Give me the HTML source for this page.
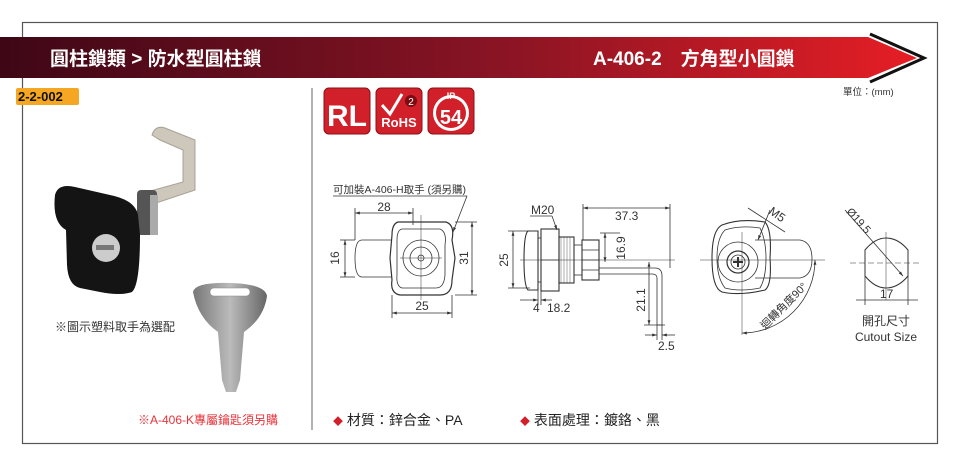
<!DOCTYPE html>
<html><head><meta charset="utf-8"><style>
body{margin:0;width:960px;height:471px;background:#fff;overflow:hidden;font-family:"Liberation Sans","Noto Sans CJK TC",sans-serif;}
svg{position:absolute;left:0;top:0}
text{font-family:"Liberation Sans","Noto Sans CJK TC",sans-serif}
</style></head><body>
<svg width="960" height="471" viewBox="0 0 960 471">
<defs>
<linearGradient id="bn" x1="0" x2="1"><stop offset="0" stop-color="#3e0716"/><stop offset="0.55" stop-color="#8a1424"/><stop offset="1" stop-color="#e61e25"/></linearGradient>
<marker id="a" viewBox="0 0 10 10" refX="10" refY="5" markerWidth="6" markerHeight="6" orient="auto-start-reverse"><path d="M0,2L10,5L0,8z" fill="#333"/></marker>
<linearGradient id="mt" x1="0" x2="1"><stop offset="0" stop-color="#777"/><stop offset=".5" stop-color="#bbb"/><stop offset="1" stop-color="#666"/></linearGradient>
</defs>
<rect x="22.5" y="22.5" width="915" height="421" fill="none" stroke="#555" stroke-width="1.2"/>
<!-- banner -->
<polyline points="870,34 924,58 870,82" fill="none" stroke="#111" stroke-width="3"/>
<path d="M0,37 L868,37 L917,58 L868,78 L0,78Z" fill="url(#bn)"/>
<text x="50" y="65" fill="#fff" font-size="19" font-weight="bold">圓柱鎖類 &gt; 防水型圓柱鎖</text>
<text x="593" y="65" fill="#fff" font-size="19" font-weight="bold">A-406-2　方角型小圓鎖</text>
<text x="843" y="95" fill="#333" font-size="9.5">單位：(mm)</text>
<rect x="16" y="88" width="63" height="17" fill="#f5a623" rx="2"/>
<text x="18" y="101" font-size="13" font-weight="bold" fill="#111">2-2-002</text>
<line x1="312" y1="88" x2="312" y2="430" stroke="#999" stroke-width="1.5"/>
<!-- badges -->
<rect x="324" y="88" width="46" height="46" rx="5" fill="#d2202a" stroke="#8a1015"/>
<text x="347" y="126" text-anchor="middle" fill="#fff" font-size="30" font-weight="bold" font-family="Liberation Sans Narrow">RL</text>
<rect x="376" y="88" width="46" height="46" rx="5" fill="#d2202a" stroke="#8a1015"/>
<path d="M382,105 L390,114 L402,94" stroke="#fff" stroke-width="3" fill="none"/>
<circle cx="411" cy="101" r="6" fill="#7a0c12"/><text x="411" y="105" text-anchor="middle" fill="#fff" font-size="10">2</text>
<text x="399" y="127" text-anchor="middle" fill="#fff" font-size="13" font-weight="bold">RoHS</text>
<rect x="428" y="88" width="46" height="46" rx="5" fill="#d2202a" stroke="#8a1015"/>
<circle cx="451" cy="113" r="18" fill="#fff"/><circle cx="451" cy="113" r="15" fill="#d2202a"/>
<text x="451" y="99" text-anchor="middle" fill="#fff" font-size="9" font-weight="bold">IP</text>
<text x="451" y="124" text-anchor="middle" fill="#fff" font-size="20" font-weight="bold">54</text>
<!-- lock photo -->
<path d="M152,135 Q155,125 165,128 L195,140 L195,190 L150,205 L143,193 L183,182 L183,150 L160,140Z" fill="#cdc7bc" stroke="#a9a296"/>
<rect x="137" y="190" width="20" height="45" rx="4" fill="#555"/>
<rect x="150" y="195" width="8" height="40" fill="#aaa"/>
<path d="M55,195 Q58,183 75,187 L110,195 Q135,200 138,215 L140,235 Q140,285 132,292 Q120,296 100,292 L80,288 Q68,285 67,265 L66,230 Q52,222 55,195Z" fill="#141414"/>
<circle cx="106" cy="248" r="14" fill="#ccc"/><rect x="96" y="245" width="18" height="5" fill="#777"/>
<!-- key -->
<path d="M193,292 Q195,282 230,283 Q265,284 267,296 Q264,318 244,332 L240,380 L236,392 L226,392 L222,380 L218,332 Q198,318 193,292Z" fill="url(#mt)"/>
<rect x="210" y="288" width="40" height="8" rx="4" fill="#fff" stroke="#888" stroke-width="0.5"/>
<text x="55" y="331" font-size="12" fill="#333">※圖示塑料取手為選配</text>
<text x="138" y="424" font-size="12" fill="#e8333a">※A-406-K專屬鑰匙須另購</text>
<text x="333" y="425" font-size="14" fill="#222"><tspan fill="#d2202a" font-size="10">◆</tspan> 材質：鋅合金、PA</text>
<text x="520" y="425" font-size="14" fill="#222"><tspan fill="#d2202a" font-size="10">◆</tspan> 表面處理：鍍鉻、黑</text>
<g stroke="#333" stroke-width="0.8" fill="none">
<line x1="333" y1="196" x2="467" y2="196"/><line x1="467" y1="196" x2="453" y2="232" marker-end="url(#a)"/>
<line x1="355" y1="213" x2="413" y2="213" marker-start="url(#a)" marker-end="url(#a)"/>
<line x1="355" y1="208" x2="355" y2="240"/><line x1="413" y1="208" x2="413" y2="225"/>
<path d="M392,240 L362,240 Q355,240 355,258 Q355,277 362,277 L392,277"/>
<path d="M398,222 L446,222 Q455,225 452,240 L455,258 L452,280 Q452,295 440,295 L400,295 Q390,293 392,280 L390,258 L392,235 Q392,224 398,222Z" stroke-width="1.2"/>
<path d="M402,229 L440,229 Q447,232 445,245 L445,275 Q444,288 436,288 L402,288 Q396,286 397,275 L397,240 Q397,230 402,229Z"/>
<circle cx="421" cy="258" r="18"/><circle cx="421" cy="258" r="11"/><circle cx="421" cy="258" r="3"/>
<line x1="400" y1="258" x2="442" y2="258" stroke-width="0.5"/><line x1="421" y1="215" x2="421" y2="300" stroke-width="0.5"/>
<line x1="345" y1="240" x2="345" y2="277" marker-start="url(#a)" marker-end="url(#a)"/>
<line x1="340" y1="240" x2="355" y2="240"/><line x1="340" y1="277" x2="355" y2="277"/>
<line x1="472" y1="222" x2="472" y2="295" marker-start="url(#a)" marker-end="url(#a)"/>
<line x1="455" y1="222" x2="477" y2="222"/><line x1="455" y1="295" x2="477" y2="295"/>
<line x1="392" y1="313" x2="452" y2="313" marker-start="url(#a)" marker-end="url(#a)"/>
<line x1="392" y1="295" x2="392" y2="318"/><line x1="452" y1="295" x2="452" y2="318"/>
<line x1="513" y1="231" x2="513" y2="288" marker-start="url(#a)" marker-end="url(#a)"/>
<line x1="508" y1="231" x2="530" y2="231"/><line x1="508" y1="288" x2="530" y2="288"/>
<path d="M528,231 L538,231 L538,290 L528,290 Q524,286 524,260 Q524,234 528,231Z" stroke-width="1.1"/>
<rect x="541" y="229" width="18" height="62" stroke-width="1.1"/><line x1="541" y1="260" x2="559" y2="260"/>
<rect x="538" y="238" width="3" height="44"/>
<rect x="559" y="237" width="15" height="46" stroke-width="1.1"/>
<path d="M561,237 v46 M564,237 v46 M567,237 v46 M570,237 v46" stroke-width="0.4"/>
<rect x="574" y="245" width="8" height="30"/>
<rect x="582" y="240" width="17" height="40" stroke-width="1.1"/><line x1="582" y1="260" x2="599" y2="260"/><line x1="582" y1="250" x2="599" y2="250"/><line x1="582" y1="270" x2="599" y2="270"/>
<path d="M599,268 L655,268 Q662,268 662,276 L662,325 L657,325 L657,278 Q657,274 652,274 L599,274"/>
<line x1="520" y1="260" x2="675" y2="260" stroke-width="0.5"/>
<line x1="530" y1="216" x2="552" y2="216"/><line x1="552" y1="216" x2="557" y2="230" marker-end="url(#a)"/>
<line x1="583" y1="208" x2="670" y2="208" marker-start="url(#a)" marker-end="url(#a)"/>
<line x1="583" y1="204" x2="583" y2="240"/><line x1="670" y1="204" x2="670" y2="268"/>
<line x1="605" y1="233" x2="605" y2="262" marker-start="url(#a)" marker-end="url(#a)"/>
<line x1="600" y1="233" x2="620" y2="233"/>
<line x1="520" y1="300" x2="538" y2="300" marker-end="url(#a)"/><line x1="541" y1="300" x2="552" y2="300" marker-start="url(#a)"/>
<line x1="538" y1="290" x2="538" y2="305"/><line x1="541" y1="291" x2="541" y2="305"/>
<line x1="649" y1="262" x2="649" y2="325" marker-start="url(#a)" marker-end="url(#a)"/>
<line x1="644" y1="325" x2="665" y2="325"/>
<line x1="645" y1="335" x2="657" y2="335" marker-end="url(#a)"/><line x1="662" y1="335" x2="675" y2="335" marker-start="url(#a)"/>
<line x1="657" y1="325" x2="657" y2="340"/><line x1="662" y1="325" x2="662" y2="340"/>
<path d="M722,225 Q740,218 765,222 Q772,230 770,258 Q772,285 765,290 Q740,296 722,292 Q712,288 712,258 Q712,230 722,225Z" stroke-width="1.1"/>
<path d="M725,230 Q740,225 760,228 Q766,240 766,258 Q766,278 760,288 Q740,292 725,288 Q717,278 717,258 Q717,238 725,230Z"/>
<circle cx="738" cy="262" r="20"/><circle cx="738" cy="262" r="11" stroke-width="1.2"/><circle cx="738" cy="262" r="7"/>
<path d="M733,262 h10 M738,257 v10" stroke-width="2"/>
<path d="M755,240 L800,240 Q812,242 812,259 Q812,276 800,278 L755,278"/>
<line x1="700" y1="260" x2="825" y2="260" stroke-width="0.5"/><line x1="742" y1="232" x2="742" y2="335" stroke-width="0.5"/>
<path d="M815,260 A73,73 0 0 1 742,333" marker-start="url(#a)" marker-end="url(#a)"/>
<line x1="748" y1="208" x2="785" y2="232"/><line x1="770" y1="210" x2="758" y2="240" marker-end="url(#a)"/>
<path d="M865,250 Q875,238 886,238 Q898,238 908,250 L908,276 Q898,288 886,288 Q875,288 865,276Z" stroke-width="1"/>
<line x1="850" y1="263" x2="920" y2="263" stroke-dasharray="6,3" stroke-width="0.5"/><line x1="886" y1="232" x2="886" y2="300" stroke-width="0.5"/>
<line x1="845" y1="210" x2="903" y2="276" marker-end="url(#a)"/>
<line x1="856" y1="300" x2="918" y2="300"/>
<line x1="865" y1="276" x2="865" y2="305"/><line x1="908" y1="276" x2="908" y2="305"/>
</g>
<g font-size="12" fill="#333">
<text x="333" y="193" font-size="10.5">可加裝A-406-H取手 (須另購)</text>
<text x="384" y="211" text-anchor="middle">28</text>
<text x="339" y="258" transform="rotate(-90 339 258)" text-anchor="middle">16</text>
<text x="468" y="258" transform="rotate(-90 468 258)" text-anchor="middle">31</text>
<text x="422" y="310" text-anchor="middle">25</text>
<text x="508" y="260" transform="rotate(-90 508 260)" text-anchor="middle">25</text>
<text x="531" y="214">M20</text>
<text x="615" y="220">37.3</text>
<text x="625" y="248" transform="rotate(-90 625 248)" text-anchor="middle">16.9</text>
<text x="533" y="312">4</text><text x="547" y="312">18.2</text>
<text x="645" y="300" transform="rotate(-90 645 300)" text-anchor="middle">21.1</text>
<text x="658" y="350">2.5</text>
<text x="768" y="213" transform="rotate(35 768 213)">M5</text>
<text x="765" y="330" transform="rotate(-45 765 330)" font-size="11">迴轉角度90°</text>
<text x="846" y="212" transform="rotate(48 846 212)" font-size="11">Ø19.5</text>
<text x="880" y="298">17</text>
<text x="886" y="325" text-anchor="middle">開孔尺寸</text>
<text x="886" y="341" text-anchor="middle">Cutout Size</text>
</g>
</svg>
</body></html>
